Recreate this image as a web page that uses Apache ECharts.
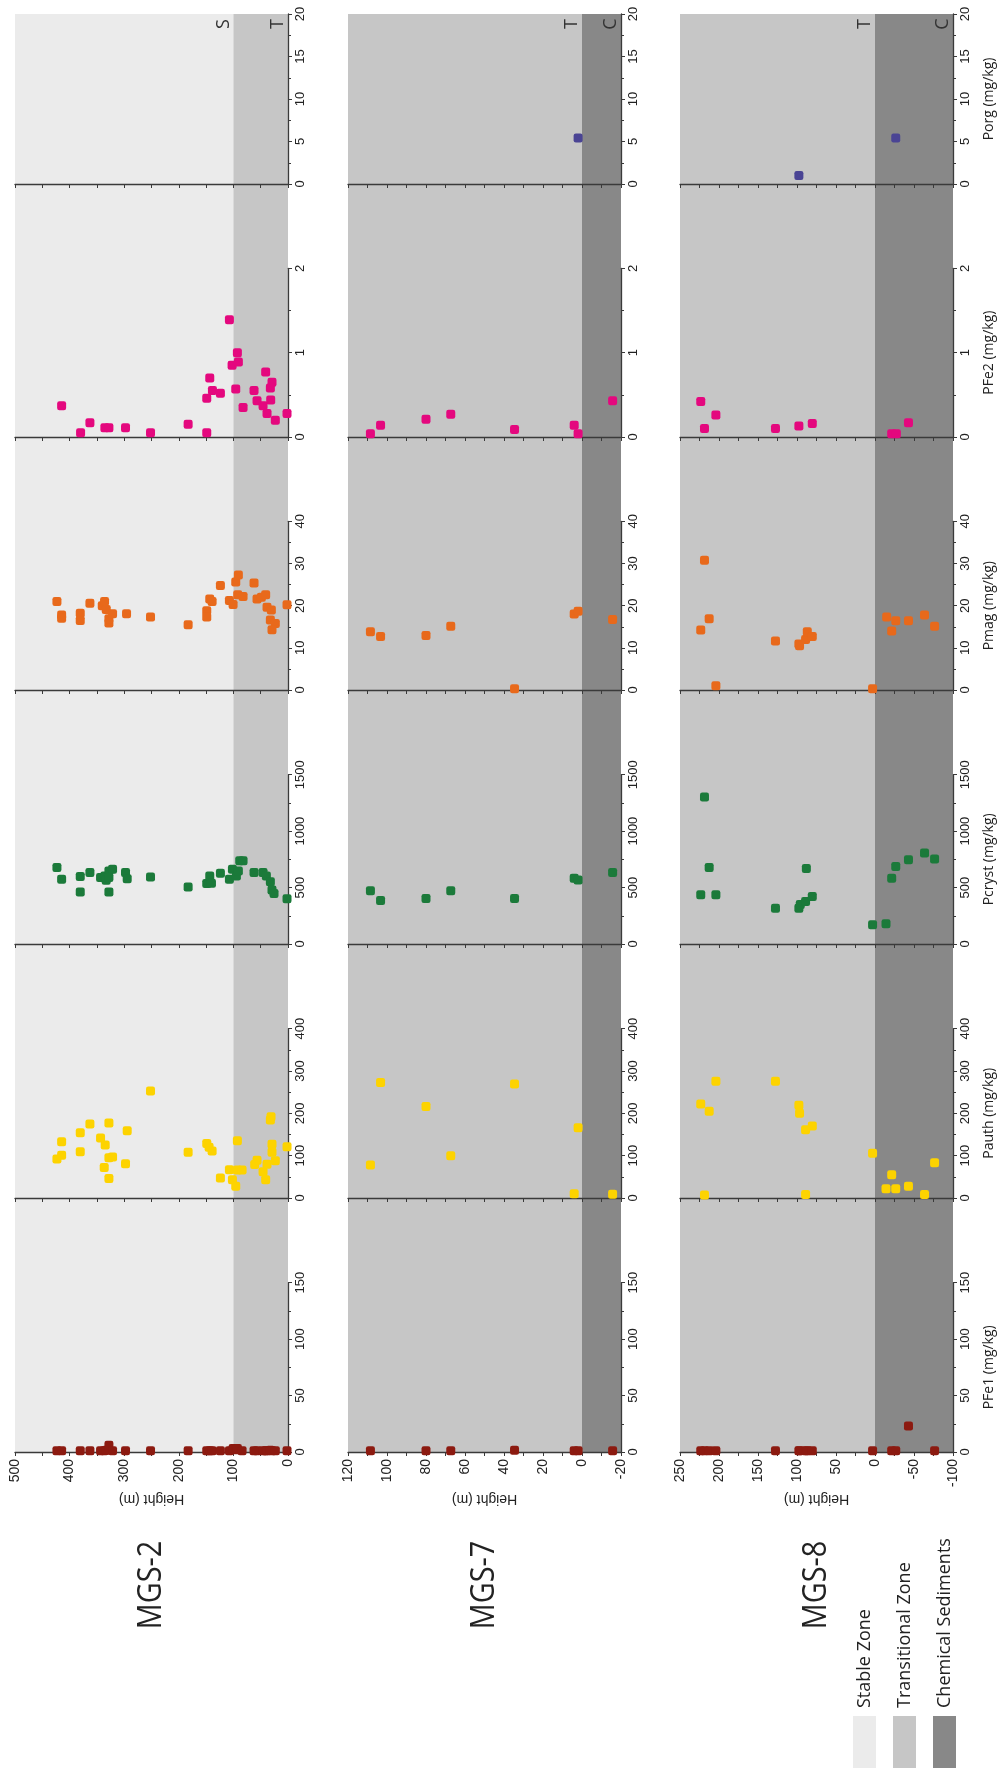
<!DOCTYPE html>
<html>
<head>
<meta charset="utf-8">
<script src="https://cdn.jsdelivr.net/npm/echarts@6/dist/echarts.min.js"></script>
<style>
  html, body { margin: 0; padding: 0; background: #ffffff; }
  #chart { width: 1004px; height: 1771px; }
</style>
</head>
<body>
<div id="chart"></div>
<script>
// ---- Sections and phosphorus fractions ----
const sections = ['MGS-2', 'MGS-7', 'MGS-8'];
const fractions = ['Porg', 'PFe2', 'Pmag', 'Pcryst', 'Pauth', 'PFe1'];
const fractionTitles = ['Porg (mg/kg)', 'PFe2 (mg/kg)', 'Pmag (mg/kg)', 'Pcryst (mg/kg)', 'Pauth (mg/kg)', 'PFe1 (mg/kg)'];
const fractionColors = ['#4a4494', '#e4087e', '#e8691b', '#1b7a3a', '#fdd300', '#8c1a10'];

// value axis: labelled range, tick step, and full panel range
const valueLabelMax = [20, 2, 40, 1500, 400, 150];
const valueStep = [5, 1, 10, 500, 100, 50];
const valuePanelMax = [20, 3, 60, 2250, 600, 225];

// height axis per section
const heightMin = [0, -20, -100];
const heightMax = [500, 120, 250];
const heightTickStep = [50, 10, 25];
const heightLabelStep = [100, 20, 50];

// zones: [zone index, lower height, upper height]
const zoneNames = ['Stable Zone', 'Transitional Zone', 'Chemical Sediments'];
const zoneLetters = ['S', 'T', 'C'];
const zoneColors = ['#ebebeb', '#c6c6c6', '#888888'];
const mgs2Zones = [[0, 100, 500], [1, 0, 100]];
const mgs7Zones = [[1, 0, 120], [2, -20, 0]];
const mgs8Zones = [[1, 0, 250], [2, -100, 0]];

// ---- Measurements: [height (m), value (mg/kg)] ----
const mgs2Porg = [];
const mgs2PFe2 = [[414.6,0.37],[379.9,0.05],[362.8,0.17],[335.4,0.11],[328,0.11],[297.6,0.11],[251.8,0.05],[182.9,0.15],[148.8,0.05],[148.8,0.46],[143.3,0.70],[138.4,0.55],[123.8,0.52],[107.3,1.39],[102.4,0.85],[92.7,1.0],[90.9,0.89],[95.7,0.57],[82.3,0.35],[62.2,0.55],[56.7,0.43],[45.7,0.37],[40.9,0.77],[29.3,0.65],[32.3,0.58],[31.7,0.44],[38.4,0.28],[23.2,0.20],[1.8,0.28]];
const mgs2Pmag = [[423.2,21.0],[414.6,17.8],[414.6,17.0],[380.5,18.2],[380.5,16.5],[362.8,20.6],[340.2,20.0],[336,21.0],[332.9,19.1],[328,15.9],[328,16.9],[321.3,18.1],[295.7,18.1],[251.8,17.3],[182.9,15.5],[148.8,18.8],[148.8,17.3],[143.3,21.6],[139,21.0],[123.8,24.8],[107.3,21.2],[100.6,20.3],[95.7,25.6],[90.9,27.3],[92.1,22.6],[82.3,22.2],[62.2,25.4],[56.7,21.6],[48.8,22.0],[40.9,22.6],[38.4,19.6],[30.5,19.0],[32.3,16.6],[23.2,15.8],[29.3,14.3],[1.8,20.2]];
const mgs2Pcryst = [[423.2,677],[414.6,573],[380.5,597],[380.5,460],[362.8,633],[343.3,588],[335.4,603],[333,564],[328,647],[321.3,662],[328,460],[328,588],[297.6,633],[294.5,579],[251.8,594],[182.9,505],[148.8,535],[143.3,603],[140.2,538],[123.8,627],[107.3,573],[101.8,662],[94.5,603],[90.9,647],[88.4,737],[82.3,737],[62.2,633],[45.7,633],[39.6,603],[32.3,552],[29.3,478],[25.6,448],[1.8,401]];
const mgs2Pauth = [[423.2,92],[414.6,101],[414.6,133],[380.5,154],[380.5,109],[362.8,175],[343.3,142],[334.8,125],[336.6,72],[328,177],[328,95],[321.3,97],[328,46],[294.5,159],[297.6,81],[251.8,253],[182.9,108],[148.8,129],[144.5,120],[139,111],[123.8,47],[107.3,67],[101.8,43],[95.7,28],[92.7,135],[92.7,66],[84.1,66],[61,79],[56.7,89],[45.7,62],[40.9,43],[38.4,80],[32.3,184],[31.1,192],[29.3,127],[29.3,108],[23.2,88],[1.8,121]];
const mgs2PFe1 = [[423.2,1],[414.6,1],[380.5,1],[362.8,1],[343.3,1],[336.6,1],[332.9,1.5],[328,6],[321.3,1],[297.6,1],[251.8,1],[182.9,1],[148.8,1],[143.3,1],[139,1],[123.8,1],[107.3,1],[100.6,3],[95.7,2],[92.7,3],[84.1,1],[62.2,1],[56.7,1],[45.7,1],[40.9,1],[38.4,1],[32.3,1.5],[29.3,1],[23.2,1],[1.8,1]];

const mgs7Porg = [[2,5.4]];
const mgs7PFe2 = [[108.5,0.04],[103.3,0.14],[80,0.21],[67.3,0.27],[34.6,0.09],[4,0.14],[2,0.04],[-15.7,0.43]];
const mgs7Pmag = [[108.5,13.8],[103.3,12.7],[80,12.9],[67.3,15.1],[34.6,0.3],[4,18.0],[2,18.7],[-15.7,16.7]];
const mgs7Pcryst = [[108.5,471],[103.3,386],[80,403],[67.3,471],[34.6,403],[4,583],[2,566],[-15.7,634]];
const mgs7Pauth = [[108.5,78],[103.3,273],[80,216],[67.3,100],[34.6,269],[4,10],[2,166],[-15.7,9]];
const mgs7PFe1 = [[108.5,1],[80,1],[67.3,1],[34.6,1.5],[4,1],[2,1],[-15.7,1]];

const mgs8Porg = [[97.6,1.0],[-26.6,5.4]];
const mgs8PFe2 = [[223.4,0.42],[218.6,0.10],[204,0.26],[127.6,0.10],[97.6,0.13],[80.4,0.16],[-21.4,0.04],[-27.4,0.04],[-42.9,0.17]];
const mgs8Pmag = [[223.4,14.2],[218.6,30.8],[212.6,16.9],[204,1.0],[127.6,11.6],[97.6,10.9],[96.7,10.5],[89,12],[86.8,13.8],[80.4,12.7],[3.1,0.3],[-15,17.3],[-21.4,14],[-26.6,16.4],[-42.9,16.4],[-63.5,17.8],[-76.4,15.1]];
const mgs8Pcryst = [[223.4,437],[218.6,1303],[212.6,677],[204,437],[127.6,317],[97.6,317],[95.8,351],[89,377],[88,668],[80.4,420],[3.1,171],[-14.1,180],[-21.4,583],[-26.6,686],[-42.9,746],[-63.5,806],[-76.4,754]];
const mgs8Pauth = [[223.4,222],[218.6,7],[212.6,205],[204,276],[127.6,276],[97.6,219],[96.7,200],[89,8],[89,161],[80.4,170],[3.1,106],[-14.1,22],[-21.4,55],[-26.6,22],[-42.9,28],[-63.5,8],[-76.4,83]];
const mgs8PFe1 = [[223.4,1],[218.6,1],[212.6,1],[204,1],[127.6,1],[97.6,1],[96.7,1],[89,1],[86.8,1],[80.4,1],[3.1,1],[-21.4,1],[-26.6,1],[-42.9,23],[-76.4,1]];

const sectionData = [
  [mgs2Porg, mgs2PFe2, mgs2Pmag, mgs2Pcryst, mgs2Pauth, mgs2PFe1],
  [mgs7Porg, mgs7PFe2, mgs7Pmag, mgs7Pcryst, mgs7Pauth, mgs7PFe1],
  [mgs8Porg, mgs8PFe2, mgs8Pmag, mgs8Pcryst, mgs8Pauth, mgs8PFe1]
];
const sectionZones = [mgs2Zones, mgs7Zones, mgs8Zones];

// ---- Layout (pixels) ----
const columnLeft = [15, 348, 680];
const columnWidth = 273;
const panelTop = [14, 184, 437, 690, 944, 1198];
const panelBottom = [184, 437, 690, 944, 1198, 1452];

const axisColor = '#3a3a3a';
const textColor = '#222222';
const axisFont = 'Liberation Sans';

const grids = [], xAxes = [], yAxes = [], series = [];

sections.forEach((section, s) => {
  fractions.forEach((fraction, v) => {
    const top = panelTop[v];
    const bottom = panelBottom[v];
    const h = bottom - top;
    const labelH = h * valueLabelMax[v] / valuePanelMax[v];
    const isBottomRow = v === fractions.length - 1;

    // panel grid: backgrounds, height axis, points
    const gA = grids.length;
    grids.push({ left: columnLeft[s], top: top, width: columnWidth, height: h });
    xAxes.push({
      gridIndex: gA, type: 'value', inverse: true,
      min: heightMin[s], max: heightMax[s], interval: heightTickStep[s],
      z: 3,
      axisLine: { show: true, onZero: false, lineStyle: { color: axisColor, width: 1.3 } },
      axisTick: { show: true, length: 4, lineStyle: { color: axisColor, width: 1 } },
      splitLine: { show: false },
      axisLabel: isBottomRow ? {
        show: true, rotate: 90, margin: 7, fontSize: 14, fontFamily: axisFont, color: textColor,
        formatter: (val) => (val % heightLabelStep[s] === 0 ? String(val) : '')
      } : { show: false },
      name: isBottomRow ? 'Height (m)' : '',
      nameLocation: 'middle', nameRotate: 180, nameGap: 40,
      nameTextStyle: { fontSize: 14, fontFamily: axisFont, color: textColor }
    });
    yAxes.push({ gridIndex: gA, type: 'value', min: 0, max: valuePanelMax[v], show: false });

    // labelled value axis on the right edge
    const gB = grids.length;
    grids.push({ left: columnLeft[s], top: bottom - labelH, width: columnWidth, height: labelH });
    xAxes.push({ gridIndex: gB, type: 'value', inverse: true, min: heightMin[s], max: heightMax[s], show: false });
    yAxes.push({
      gridIndex: gB, type: 'value', position: 'right',
      min: 0, max: valueLabelMax[v], interval: valueStep[v],
      z: 3,
      axisLine: { show: true, onZero: false, lineStyle: { color: axisColor, width: 1.3 } },
      axisTick: { show: true, length: 4, lineStyle: { color: axisColor, width: 1 } },
      minorTick: { show: true, splitNumber: 2, length: 3, lineStyle: { color: axisColor, width: 1 } },
      splitLine: { show: false },
      minorSplitLine: { show: false },
      axisLabel: {
        rotate: 90, margin: 6, fontSize: 13, fontFamily: axisFont, color: textColor,
        formatter: (val) => String(val)
      },
      name: s === sections.length - 1 ? fractionTitles[v] : '',
      nameLocation: 'middle', nameRotate: 90, nameGap: 29,
      nameTextStyle: { fontSize: 14, fontFamily: 'Open Sans', color: textColor }
    });

    series.push({
      type: 'scatter',
      name: section + ' ' + fraction,
      xAxisIndex: gA, yAxisIndex: gA,
      data: sectionData[s][v],
      symbol: 'roundRect',
      symbolSize: 9,
      itemStyle: { color: fractionColors[v], opacity: 1 },
      z: 5,
      silent: true,
      markArea: {
        silent: true,
        z: 1,
        label: { show: false },
        data: sectionZones[s].map(([z, lo, hi]) => [
          { xAxis: lo, itemStyle: { color: zoneColors[z], opacity: 1 } },
          { xAxis: hi }
        ])
      }
    });
  });
});

const chart = echarts.init(document.getElementById('chart'), null, { renderer: 'canvas' });
chart.setOption({
  animation: false,
  backgroundColor: '#ffffff',
  grid: grids,
  xAxis: xAxes,
  yAxis: yAxes,
  series: series
});

// ---- Zone letters, section titles and zone legend ----
const graphics = [];
sections.forEach((section, s) => {
  const porgAxis = s * fractions.length * 2;
  sectionZones[s].forEach(([z, lo]) => {
    const px = chart.convertToPixel({ xAxisIndex: porgAxis }, lo);
    graphics.push({
      type: 'text', x: px - 10, y: panelTop[0] + 10, rotation: Math.PI / 2, z: 20,
      style: { text: zoneLetters[z], fill: '#333333', font: '18px "Open Sans"',
               align: 'center', verticalAlign: 'middle', textAlign: 'center', textVerticalAlign: 'middle' }
    });
  });
  graphics.push({
    type: 'text', x: columnLeft[s] + columnWidth / 2, y: 1585, rotation: Math.PI / 2, scaleX: 0.9, z: 20,
    style: { text: section, fill: textColor, font: '32px "Open Sans"',
             align: 'center', verticalAlign: 'middle', textAlign: 'center', textVerticalAlign: 'middle' }
  });
});

zoneNames.forEach((zoneName, i) => {
  graphics.push({
    type: 'rect', shape: { x: 853 + 40 * i, y: 1716, width: 23, height: 52 }, z: 20,
    style: { fill: zoneColors[i] }
  });
  graphics.push({
    type: 'text', x: 864.5 + 40 * i, y: 1708, rotation: Math.PI / 2, z: 20,
    style: { text: zoneName, fill: textColor, font: '18px "Open Sans"',
             align: 'left', verticalAlign: 'middle', textAlign: 'left', textVerticalAlign: 'middle' }
  });
});

chart.setOption({ graphic: graphics });
</script>
</body>
</html>
